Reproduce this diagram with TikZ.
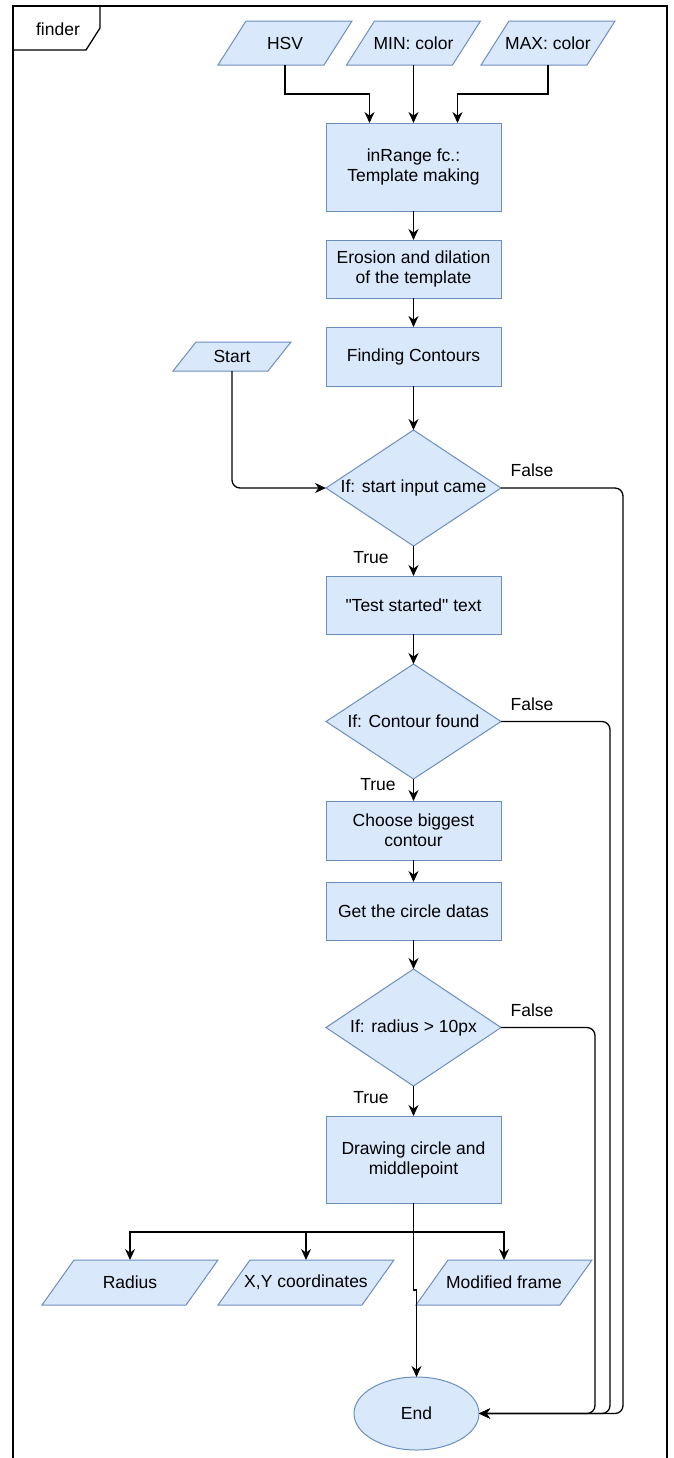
\documentclass[tikz,border=0pt]{standalone}
\usepackage{fontspec}
\setmainfont{Liberation Sans}[Ligatures=TeXOff]
\usetikzlibrary{arrows.meta,calc,shapes.geometric,backgrounds}
\definecolor{bfill}{HTML}{DAE8FC}
\definecolor{bline}{HTML}{6C8EBF}
\begin{document}
\begin{tikzpicture}[x=0.5pt,y=-0.5pt,
  every node/.style={font=\fontsize{8.75pt}{10pt}\selectfont, inner sep=0pt, outer sep=0pt, align=center},
  shp/.style={draw=bline, fill=bfill, line width=0.5pt},
  box/.style={shp, minimum width=87.5pt},
  conn/.style={draw=black, line width=0.65pt, -{Stealth[length=5.5pt,width=5pt]}},
  plain/.style={draw=black, line width=0.65pt},
  lbl/.style={font=\fontsize{8.75pt}{10pt}\selectfont},
]
\useasboundingbox (0,0) rectangle (674,1458);

% frame and tab
\draw[plain] (13,1458) -- (13,6) -- (667,6) -- (667,1458);
\draw[plain] (100,6) -- (100,28) -- (86,50) -- (13,50);
\node (finder) at (58,29) {finder};

% input parallelograms (text holders)
\node[minimum width=53pt, minimum height=22pt] (hsv) at (285,43) {HSV};
\node[minimum width=53pt, minimum height=22pt] (minc) at (413.5,43) {MIN: color};
\node[minimum width=53pt, minimum height=22pt] (maxc) at (548,43) {MAX: color};
\node[minimum width=47.5pt, minimum height=14.5pt] (start) at (232,356.5) {Start};

% process boxes
\node[box, minimum height=44pt] (inr) at (413.5,167) {inRange fc.:\\Template making};
\node[box, minimum height=29pt] (ero) at (413.5,269) {Erosion and dilation\\of the template};
\node[box, minimum height=29.5pt] (fin) at (413.5,356.5) {Finding Contours};
\node[minimum width=87.5pt, minimum height=58pt] (d1) at (413.5,488) {If: start input came};
\node[box, minimum height=29pt] (tst) at (413.5,605) {"Test started" text};
\node[minimum width=87.5pt, minimum height=57.5pt] (d2) at (413.5,721.5) {If: Contour found};
\node[box, minimum height=29.5pt] (cbc) at (413.5,830.5) {Choose biggest\\contour};
\node[box, minimum height=29pt] (gcd) at (413.5,911) {Get the circle datas};
\node[minimum width=87.5pt, minimum height=58.5pt] (d3) at (413.5,1027.5) {If: radius > 10px};
\node[box, minimum height=43.5pt] (dcm) at (413.5,1159.5) {Drawing circle and\\middlepoint};

% outputs
\node[minimum width=72pt, minimum height=22.5pt] (rad) at (130,1282.5) {Radius};
\node[minimum width=72pt, minimum height=22.5pt] (xy) at (306,1282.5) {X,Y coordinates};
\node[minimum width=72pt, minimum height=22.5pt] (mod) at (504,1282.5) {Modified frame};
\node[shp, ellipse, minimum width=62.5pt, minimum height=36.5pt] (end) at (416.5,1413.5) {End};

% background shapes
\begin{scope}[on background layer]
\foreach \n/\s in {hsv/28,minc/28,maxc/28,start/23,rad/32,xy/32,mod/32}
  \draw[shp] ($(\n.south west)+(-\s/2,0)$) -- ($(\n.north west)+(\s/2,0)$) -- ($(\n.north east)+(\s/2,0)$) -- ($(\n.south east)+(-\s/2,0)$) -- cycle;
\foreach \n in {d1,d2,d3}
  \draw[shp] (\n.north) -- (\n.east) -- (\n.south) -- (\n.west) -- cycle;
\end{scope}

% connectors top
\draw[conn] (hsv.south) |- ($(inr.north)+(-44,-29)$) -- ($(inr.north)+(-44,0)$);
\draw[conn] (minc.south) -- (inr.north);
\draw[conn] (maxc.south) |- ($(inr.north)+(44,-29)$) -- ($(inr.north)+(44,0)$);
\draw[conn] (inr.south) -- (ero.north);
\draw[conn] (ero.south) -- (fin.north);
\draw[conn] (fin.south) -- (d1.north);
\draw[conn, rounded corners=4pt] (start.south) |- (d1.west);
\draw[conn] (d1.south) -- (tst.north);
\draw[conn] (tst.south) -- (d2.north);
\draw[conn] (d2.south) -- (cbc.north);
\draw[conn] (cbc.south) -- (gcd.north);
\draw[conn] (gcd.south) -- (d3.north);
\draw[conn] (d3.south) -- (dcm.north);

% false branches
\draw[conn, rounded corners=4pt] (d1.east) -| ($(end.east)+(144,0)$) -- (end.east);
\draw[conn, rounded corners=4pt] (d2.east) -| ($(end.east)+(131,0)$) -- (end.east);
\draw[conn, rounded corners=4pt] (d3.east) -| ($(end.east)+(116,0)$) -- (end.east);

% outputs
\coordinate (split) at ($(dcm.south)+(0,29)$);
\coordinate (jog) at ($(dcm.south)+(0,87)$);
\draw[plain] (dcm.south) -- (split);
\draw[conn] (split) -| (rad.north);
\draw[conn] (split) -| (xy.north);
\draw[conn] (split) -| (mod.north);
\draw[conn] (dcm.south) -- (jog) -| (end.north);

% labels
\node[lbl] (f1) at (532,470) {False};
\node[lbl] (f2) at (532,704) {False};
\node[lbl] (f3) at (532,1010) {False};
\node[lbl] (t1) at (371,558) {True};
\node[lbl] (t2) at (378,785) {True};
\node[lbl] (t3) at (371,1098) {True};
\end{tikzpicture}
\end{document}
